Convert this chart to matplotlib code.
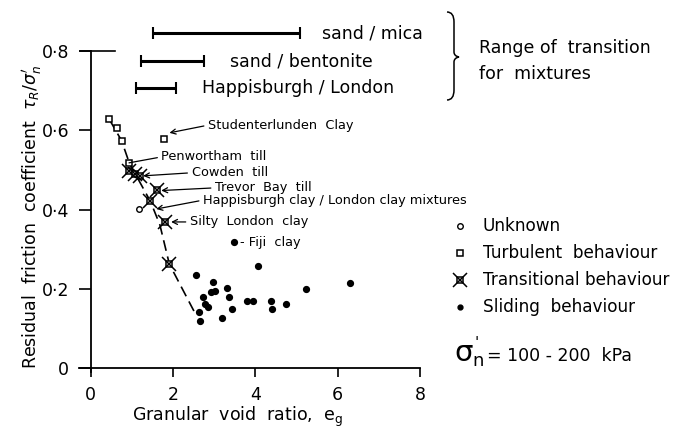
import matplotlib
matplotlib.use("Agg")
import matplotlib.pyplot as plt
from matplotlib.path import Path
from matplotlib.patches import PathPatch

plt.rcParams['font.family'] = ['DejaVu Sans']

# ---------------- data ----------------
turb_x = [0.45, 0.65, 0.75, 0.94, 1.78]
turb_y = [0.628, 0.605, 0.574, 0.517, 0.578]

trans_x = [0.94, 1.075, 1.20, 1.45, 1.62, 1.80, 1.91]
trans_y = [0.498, 0.490, 0.486, 0.421, 0.449, 0.368, 0.263]

unk_x = [1.18]
unk_y = [0.402]

slide_x = [3.48, 4.07, 2.56, 2.98, 3.32, 5.22, 6.30, 2.92, 3.02, 2.73, 3.36,
           3.79, 3.95, 4.39, 4.74, 2.77, 2.86, 4.40, 3.43, 2.63, 3.19, 2.65]
slide_y = [0.318, 0.258, 0.235, 0.217, 0.202, 0.200, 0.216, 0.192, 0.194, 0.179, 0.179,
           0.170, 0.170, 0.169, 0.162, 0.162, 0.155, 0.150, 0.149, 0.143, 0.127, 0.120]

trend_x = [0.45, 0.75, 0.94, 1.45, 1.68, 1.91, 2.57]
trend_y = [0.628, 0.574, 0.517, 0.421, 0.362, 0.263, 0.132]

range_labels = ['sand / mica', 'sand / bentonite', 'Happisburgh / London']
range_lo = [1.52, 1.21, 1.10]
range_hi = [5.08, 2.75, 2.07]
range_y = [0.845, 0.776, 0.706]

x_ticks = [0, 2, 4, 6, 8]
y_ticks = [0, 0.2, 0.4, 0.6, 0.8]
y_tick_labels = ['0', '0·2', '0·4', '0·6', '0·8']

# ---------------- figure ----------------
W, H = 675, 429
fig = plt.figure(figsize=(W / 100, H / 100), dpi=100)

# axes placement (pixels)
px_x0, px_x8 = 90.7, 420.0
px_y0, px_y08 = 368.3, 51.0
sx = (px_x8 - px_x0) / 8.0
sy = (px_y0 - px_y08) / 0.8
xmin, ymin = -0.28, -0.009
left = (px_x0 + xmin * sx) / W
right = px_x8 / W
bottom = (H - (px_y0 - ymin * sy)) / H
top = (H - px_y08) / H
ax = fig.add_axes([left, bottom, right - left, top - bottom])
ax.set_xlim(xmin, 8)
ax.set_ylim(ymin, 0.8)
ax.patch.set_visible(False)

for s in ['top', 'right']:
    ax.spines[s].set_visible(False)
ax.spines['left'].set_position(('data', 0))
ax.spines['bottom'].set_position(('data', 0))
ax.spines['left'].set_linewidth(1.3)
ax.spines['bottom'].set_linewidth(1.3)

ax.set_xticks(x_ticks)
ax.set_xticklabels([str(t) for t in x_ticks])
ax.set_yticks(y_ticks)
ax.set_yticklabels(y_tick_labels)
ax.tick_params(axis='x', direction='out', length=6.5, width=1.2, pad=6, labelsize=12.5)
ax.tick_params(axis='y', direction='out', length=8.5, width=1.2, pad=7, labelsize=12.5)
# top "T" at 0.8
ax.plot([-0.26, 0.59], [0.8, 0.8], color='black', lw=1.2, clip_on=False)

# trend line
ax.plot(trend_x, trend_y, color='black', lw=1.2, dashes=(6.5, 3.5), zorder=2)

# markers
ax.plot(unk_x, unk_y, 'o', ms=4, mfc='white', mec='black', mew=1.0, zorder=3)
ax.plot(turb_x, turb_y, 's', ms=5, mfc='white', mec='black', mew=1.1, zorder=3)
ax.plot(trans_x, trans_y, 's', ms=5, mfc='white', mec='black', mew=1.1, zorder=3)
ax.plot(trans_x, trans_y, 'x', ms=10, mec='black', mew=1.1, zorder=4)
ax.plot(slide_x, slide_y, 'o', ms=4.2, mfc='black', mec='black', zorder=3)

# range bars
for lab, lo, hi, yy in zip(range_labels, range_lo, range_hi, range_y):
    ax.plot([lo, hi], [yy, yy], color='black', lw=2.2, clip_on=False, solid_capstyle='butt')
    ax.plot([lo, hi], [yy, yy], '|', ms=8, mew=1.5, color='black', clip_on=False)

# annotations
ann_kw = dict(fontsize=9.3, ha='left', va='center', annotation_clip=False)
arrow = dict(arrowstyle='->', color='black', lw=0.9, shrinkA=1, shrinkB=1,
             mutation_scale=9)
plain = dict(arrowstyle='-', color='black', lw=0.9, shrinkA=1, shrinkB=0)
ax.annotate('Studenterlunden  Clay', xy=(1.88, 0.593), xytext=(2.85, 0.613),
            arrowprops=dict(arrow, relpos=(0, 0.5)), **ann_kw)
ax.annotate('Penwortham  till', xy=(0.93, 0.518), xytext=(1.72, 0.533),
            arrowprops=dict(plain, relpos=(0, 0.5)), **ann_kw)
ax.annotate('Cowden  till', xy=(1.24, 0.485), xytext=(2.45, 0.493),
            arrowprops=dict(arrow, relpos=(0, 0.5)), **ann_kw)
ax.annotate('Trevor  Bay  till', xy=(1.68, 0.448), xytext=(3.02, 0.455),
            arrowprops=dict(arrow, relpos=(0, 0.5)), **ann_kw)
ax.annotate('Happisburgh clay / London clay mixtures', xy=(1.56, 0.401), xytext=(2.73, 0.424),
            arrowprops=dict(arrow, relpos=(0, 0.5)), **ann_kw)
ax.annotate('Silty  London  clay', xy=(1.92, 0.369), xytext=(2.41, 0.369),
            arrowprops=dict(arrow, relpos=(0, 0.5)), **ann_kw)
ax.text(3.63, 0.316, '- Fiji  clay', fontsize=9.3, ha='left', va='center')

# ---------------- overlay (pixel coords) ----------------
ov = fig.add_axes([0, 0, 1, 1], zorder=-1)
ov.set_xlim(0, W)
ov.set_ylim(H, 0)
ov.axis('off')

ov.text(322, 33, range_labels[0], fontsize=12.5, ha='left', va='center')
ov.text(230, 61, range_labels[1], fontsize=12.5, ha='left', va='center')
ov.text(202, 88, range_labels[2], fontsize=12.5, ha='left', va='center')
ov.text(479, 48, 'Range of  transition', fontsize=12.5, ha='left', va='center')
ov.text(479, 74, 'for  mixtures', fontsize=12.5, ha='left', va='center')

# brace
verts = [(447, 12), (454, 12), (454, 22),
         (454, 50), (454, 52), (454, 56), (459, 57),
         (454, 58), (454, 62), (454, 64),
         (454, 90), (454, 100), (447, 100)]
codes = [Path.MOVETO, Path.CURVE3, Path.CURVE3,
         Path.LINETO, Path.LINETO, Path.CURVE3, Path.CURVE3,
         Path.CURVE3, Path.CURVE3, Path.LINETO,
         Path.LINETO, Path.CURVE3, Path.CURVE3]
ov.add_patch(PathPatch(Path(verts, codes), fill=False, lw=1.1, color='black'))

# legend
ov.plot([460], [226], 'o', ms=4, mfc='white', mec='black', mew=1.0)
ov.plot([460], [253], 's', ms=5, mfc='white', mec='black', mew=1.1)
ov.plot([460], [280], 's', ms=5, mfc='white', mec='black', mew=1.1)
ov.plot([460], [280], 'x', ms=10, mec='black', mew=1.1)
ov.plot([460], [307], 'o', ms=3.5, mfc='black', mec='black')
ov.text(483, 226, 'Unknown', fontsize=12.2, ha='left', va='center')
ov.text(483, 253, 'Turbulent  behaviour', fontsize=12.2, ha='left', va='center')
ov.text(483, 280, 'Transitional behaviour', fontsize=12.2, ha='left', va='center')
ov.text(483, 307, 'Sliding  behaviour', fontsize=12.2, ha='left', va='center')
ov.text(454, 353, 'σ', fontsize=21, ha='left', va='center')
ov.text(472, 361, 'n', fontsize=13, ha='left', va='center')
ov.text(475, 344, "'", fontsize=11, ha='left', va='center')
ov.text(487, 356, '= 100 - 200  kPa', fontsize=12.5, ha='left', va='center')

# axis labels
ov.text(32, 217, r"Residual  friction  coefficient  $\tau_R/\sigma_n'$", fontsize=12.5,
        rotation=90, ha='center', va='center')
ov.text(132, 417, r"Granular  void  ratio,  $\mathregular{e_g}$", fontsize=12.5,
        ha='left', va='center')

fig.savefig('out.png', dpi=100)
